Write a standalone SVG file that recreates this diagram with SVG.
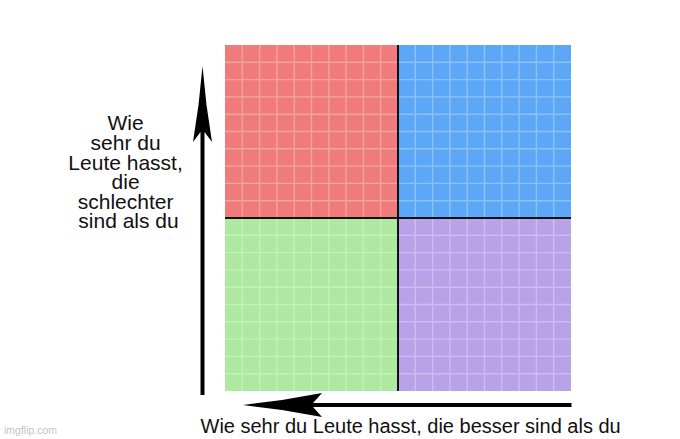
<svg xmlns="http://www.w3.org/2000/svg" width="680" height="439" viewBox="0 0 680 439">
<style>
.lbl{font-family:"Liberation Sans",Arial,sans-serif;fill:#111;}
.grid{stroke:#ffffff;stroke-opacity:0.3;stroke-width:1.4;fill:none;}
.div{stroke:#111;stroke-width:2;}
.arrow{fill:#000;}
</style>
<rect width="680" height="439" fill="#ffffff"/>
<g id="quadrant-red"><rect x="225" y="45" width="173" height="173" fill="#ef7b7b"/></g>
<g id="quadrant-blue"><rect x="398" y="45" width="173" height="173" fill="#5ca8f6"/></g>
<g id="quadrant-green"><rect x="225" y="218" width="173" height="173" fill="#aee8a1"/></g>
<g id="quadrant-purple"><rect x="398" y="218" width="173" height="173" fill="#b8a2e8"/></g>
<g id="gridlines">
<path class="grid" d="M242.3 45V391M259.6 45V391M276.9 45V391M294.2 45V391M311.5 45V391M328.8 45V391M346.1 45V391M363.4 45V391M380.7 45V391M415.3 45V391M432.6 45V391M449.9 45V391M467.2 45V391M484.5 45V391M501.8 45V391M519.1 45V391M536.4 45V391M553.7 45V391M225 62.3H571M225 79.6H571M225 96.9H571M225 114.2H571M225 131.5H571M225 148.8H571M225 166.1H571M225 183.4H571M225 200.7H571M225 235.3H571M225 252.6H571M225 269.9H571M225 287.2H571M225 304.5H571M225 321.8H571M225 339.1H571M225 356.4H571M225 373.7H571"/>
<path class="div" d="M398 45V391M225 218H571"/>
</g>
<g id="connectors">
<path class="arrow" d="M202.5 66L206.5 105L212 142L204.5 132L204.5 395L200.5 395L200.5 132L193 142L198.5 105Z"/>
<path class="arrow" d="M243 405L282 400L322 393L313 403L571.5 403L571.5 407L313 407L322 417L282 410Z"/>
</g>
<g id="label-y">
<text class="lbl" font-size="21" text-anchor="middle" x="128.5">
<tspan x="128.5" y="130">Wie</tspan>
<tspan x="128.5" y="150">sehr du</tspan>
<tspan x="128.5" y="169.5">Leute hasst,</tspan>
<tspan x="128.5" y="189">die</tspan>
<tspan x="128.5" y="208.5">schlechter</tspan>
<tspan x="128.5" y="228">sind als du</tspan>
</text>
</g>
<g id="label-x">
<text class="lbl" font-size="20" x="200.5" y="433">Wie sehr du Leute hasst, die besser sind als du</text>
</g>
<text x="4" y="434" font-family="Liberation Sans,Arial,sans-serif" font-size="10.5" fill="#c4c4c4">imgflip.com</text>
</svg>
